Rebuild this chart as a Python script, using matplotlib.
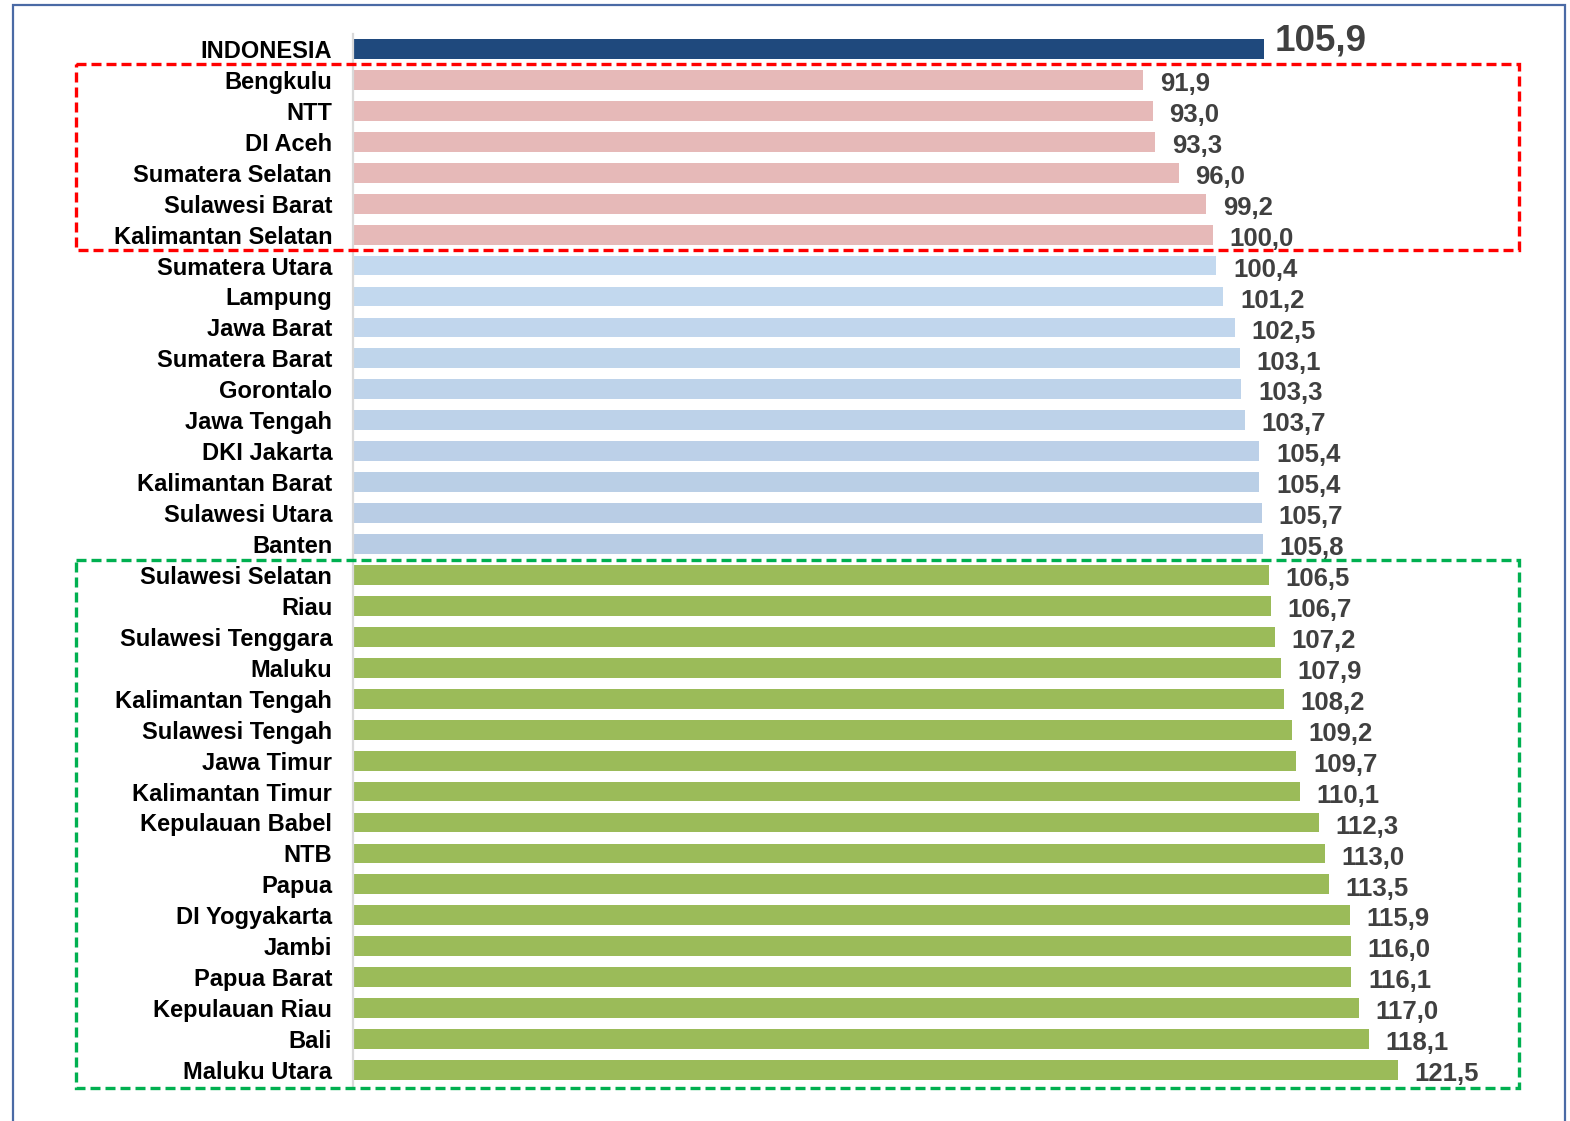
#!/usr/bin/env python3

import matplotlib

matplotlib.use("Agg")
import matplotlib.pyplot as plt
import numpy as np
from matplotlib.colors import to_rgb
from matplotlib.patches import Rectangle
from matplotlib.transforms import blended_transform_factory

# data, top to bottom as in the chart
national_name = "INDONESIA"
national_value = 105.9

low_names = ["Bengkulu", "NTT", "DI Aceh", "Sumatera Selatan", "Sulawesi Barat",
             "Kalimantan Selatan"]
low_values = [91.9, 93.0, 93.3, 96.0, 99.2, 100.0]

mid_names = ["Sumatera Utara", "Lampung", "Jawa Barat", "Sumatera Barat", "Gorontalo",
             "Jawa Tengah", "DKI Jakarta", "Kalimantan Barat", "Sulawesi Utara", "Banten"]
mid_values = [100.4, 101.2, 102.5, 103.1, 103.3, 103.7, 105.4, 105.4, 105.7, 105.8]

high_names = ["Sulawesi Selatan", "Riau", "Sulawesi Tenggara", "Maluku", "Kalimantan Tengah",
              "Sulawesi Tengah", "Jawa Timur", "Kalimantan Timur", "Kepulauan Babel", "NTB",
              "Papua", "DI Yogyakarta", "Jambi", "Papua Barat", "Kepulauan Riau", "Bali",
              "Maluku Utara"]
high_values = [106.5, 106.7, 107.2, 107.9, 108.2, 109.2, 109.7, 110.1, 112.3, 113.0,
               113.5, 115.9, 116.0, 116.1, 117.0, 118.1, 121.5]

NAVY = "#1F497D"
PINK = "#E6B9B8"
BLUE_TOP = "#C3D9EF"
BLUE_BOTTOM = "#B8CCE4"
GREEN = "#9BBB59"
VALUE_COLOR = "#404040"

W, H, DPI = 1570, 1121, 100


def fmt(v):
    return f"{v:.1f}".replace(".", ",")


def blue_shades(n):
    a = np.array(to_rgb(BLUE_TOP))
    b = np.array(to_rgb(BLUE_BOTTOM))
    return [tuple(a + (b - a) * t) for t in np.linspace(0, 1, n)]


names = [national_name] + low_names + mid_names + high_names
values = [national_value] + low_values + mid_values + high_values
colors = [NAVY] + [PINK] * len(low_names) + blue_shades(len(mid_names)) + [GREEN] * len(high_names)
ypos = np.arange(len(names))

plt.rcParams["font.family"] = ["Liberation Sans", "DejaVu Sans"]

fig = plt.figure(figsize=(W / DPI, H / DPI), dpi=DPI)
ax_left, ax_right = 353 / W, 1500 / W
ax_top, ax_bottom = 33.5 / H, 1085.5 / H
ax = fig.add_axes([ax_left, 1 - ax_bottom, ax_right - ax_left, ax_bottom - ax_top])

ax.barh(ypos, values, height=0.64, color=colors, zorder=2)
ax.set_ylim(len(names) - 0.5, -0.5)
ax.set_xlim(0, 1147 / 8.6)

ax.set_yticks(ypos)
ax.set_yticklabels(names, fontsize=17, fontweight="bold", color="black")
ax.tick_params(axis="y", length=0, pad=15)
ax.tick_params(axis="x", bottom=False, labelbottom=False)
for side in ("top", "right", "bottom"):
    ax.spines[side].set_visible(False)
ax.spines["left"].set_color("#D9D9D9")
ax.spines["left"].set_linewidth(1.6)

for i, (v, y) in enumerate(zip(values, ypos)):
    if i == 0:
        ax.annotate(fmt(v), (v, y), xytext=(8, 6), textcoords="offset points",
                    ha="left", va="center", fontsize=26.5, fontweight="bold", color=VALUE_COLOR)
    else:
        ax.annotate(fmt(v), (v, y), xytext=(12, -3), textcoords="offset points",
                    ha="left", va="center", fontsize=18.5, fontweight="bold", color=VALUE_COLOR)

# dashed group boxes: x in figure pixels, y in data rows
trans = blended_transform_factory(fig.transFigure, ax.transData)
x0, x1 = 76 / W, 1519 / W
n_low = len(low_names)
n_mid = len(mid_names)
red_top = 0.5
red_bot = n_low + 0.5
green_top = n_low + n_mid + 0.5
green_bot = len(names) - 0.5 + 0.08
for top, bot, col in ((red_top, red_bot, "#FF0000"), (green_top, green_bot, "#00B050")):
    ax.add_patch(Rectangle((x0, top), x1 - x0, bot - top, transform=trans, fill=False,
                           edgecolor=col, linewidth=2.4, linestyle=(0, (3, 1.5)),
                           clip_on=False, zorder=5))

# outer frame
fig.patches.append(Rectangle((13 / W, -0.05), (1565 - 13) / W, 1.05 - 5 / H,
                             transform=fig.transFigure, fill=False,
                             edgecolor="#4A6AA5", linewidth=1.6))

fig.savefig("out.png", dpi=DPI)
